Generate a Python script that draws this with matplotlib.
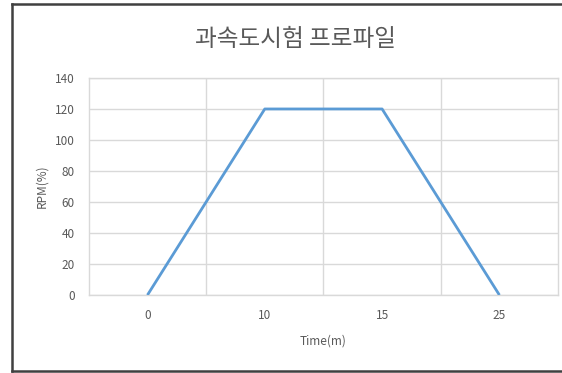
import matplotlib.pyplot as plt
from matplotlib.lines import Line2D

plt.rcParams['font.family'] = ['Noto Sans CJK KR', 'DejaVu Sans']

# over-speed test profile
time_labels = ['0', '10', '15', '25']
rpm = [0, 120, 120, 0]
y_ticks = [0, 20, 40, 60, 80, 100, 120, 140]

text_color = '#595959'
grid_color = '#D9D9D9'

fig = plt.figure(figsize=(5.62, 3.73), dpi=100)
ax = fig.add_axes([0.158, 0.209, 0.835, 0.582])

x = list(range(len(time_labels)))
ax.plot(x, rpm, color='#5B9BD5', linewidth=2.0, solid_capstyle='butt', zorder=3)

ax.set_xlim(-0.5, len(time_labels) - 0.5)
ax.set_ylim(0, 140)
ax.set_yticks(y_ticks)
ax.set_xticks(x)
ax.set_xticklabels(time_labels)
ax.set_xticks([i + 0.5 for i in x[:-1]], minor=True)

ax.grid(axis='y', which='major', color=grid_color, linewidth=1.0)
ax.grid(axis='x', which='minor', color=grid_color, linewidth=1.0)
ax.set_axisbelow(True)
for s in ax.spines.values():
    s.set_color(grid_color)
    s.set_linewidth(1.0)

ax.tick_params(which='both', length=0, labelsize=8.5, colors=text_color, pad=10)
ax.tick_params(axis='x', pad=10)

ax.set_xlabel('Time(m)', fontsize=8.5, color=text_color, labelpad=9)
ax.set_ylabel('RPM(%)', fontsize=8.5, color=text_color, labelpad=5)
fig.text(0.526, 0.895, '과속도시험 프로파일', ha='center', va='center',
         fontsize=17, color=text_color)

# dark frame around the chart
frame_kw = dict(color='#404040', linewidth=1.8, transform=fig.transFigure)
fig.add_artist(Line2D([12/562, 12/562], [2/373, 369/373], **frame_kw))
fig.add_artist(Line2D([12/562, 1.0], [369/373, 369/373], **frame_kw))
fig.add_artist(Line2D([12/562, 1.0], [2/373, 2/373], **frame_kw))

fig.savefig('out.png', dpi=100)
